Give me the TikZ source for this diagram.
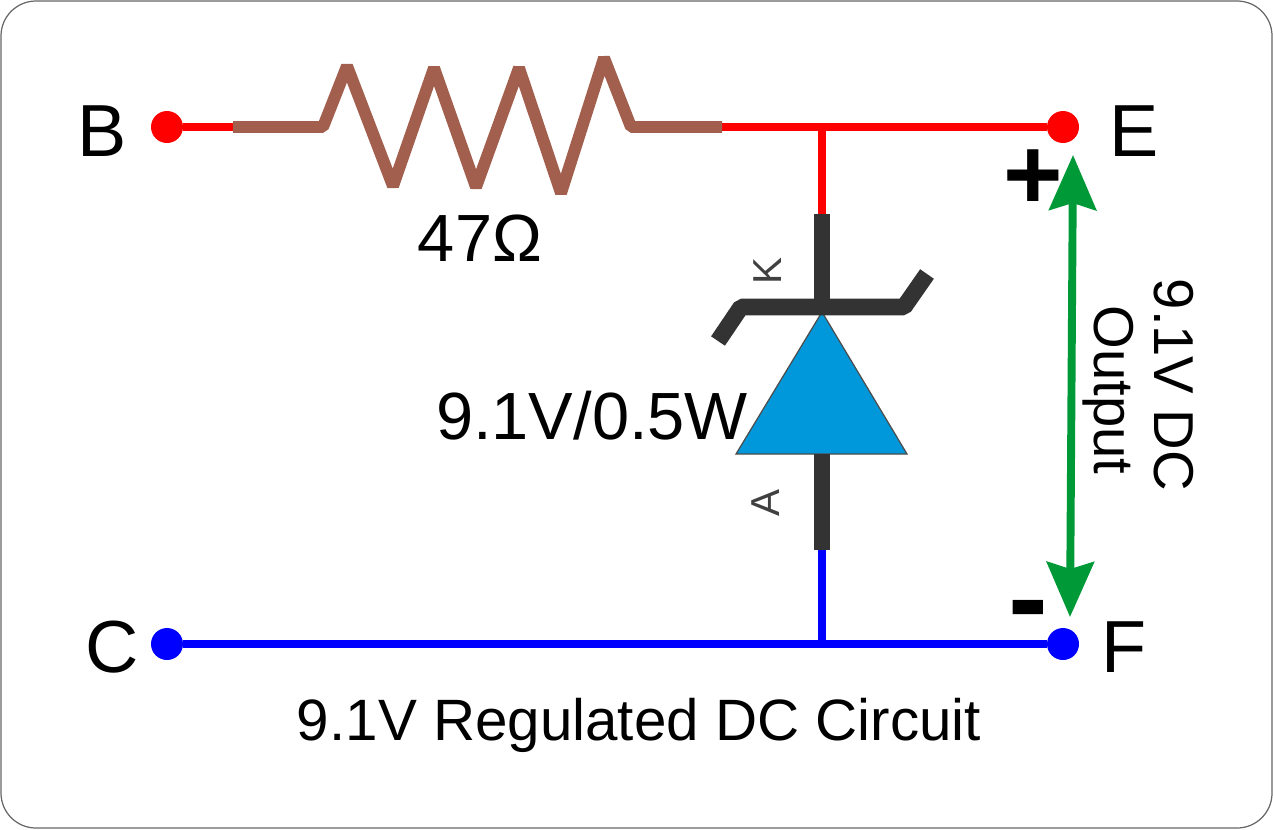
\documentclass[tikz,border=0pt]{standalone}
\usepackage{fontspec}
\setmainfont{Liberation Sans}
\usetikzlibrary{arrows.meta}

\begin{document}
\begin{tikzpicture}[
x=0.02cm, y=-0.02cm,
dot/.style={circle, inner sep=0pt, minimum size=0.64cm},
letter/.style={font=\fontsize{42}{42}\selectfont, inner sep=0pt},
label/.style={font=\fontsize{38}{38}\selectfont, inner sep=0pt},
side/.style={font=\fontsize{32}{32}\selectfont, inner sep=0pt, rotate=-90},
small/.style={font=\fontsize{23}{23}\selectfont, inner sep=0pt, text=black!75, rotate=90},
wire/.style={line width=4.5pt},
lead/.style={line width=9.5pt, draw=black!80, line cap=butt, line join=bevel},
]
\useasboundingbox (0,0) rectangle (1273,829);
\draw[black!60, line width=0.7pt, rounded corners=0.7cm] (1,1) rectangle (1272,828);

\node[dot, fill=red] (B) at (167,127) {};
\node[dot, fill=red] (E) at (1063,127) {};
\node[dot, fill=blue] (C) at (167,644) {};
\node[dot, fill=blue] (F) at (1063,644) {};
\coordinate (r1) at (233,127);
\coordinate (r2) at (722,127);
\coordinate (j1) at (822,127);
\coordinate (k1) at (822,214);
\coordinate (k2) at (822,307);
\coordinate (a1) at (822,454);
\coordinate (a2) at (822,550);
\coordinate (j2) at (822,644);
\coordinate (u1) at (1073,155);
\coordinate (u2) at (1070,617);

% wires
\draw[wire, red] (B)--(r1);
\draw[wire, red] (r2)--(E);
\draw[wire, red] (j1)--(k1);
\draw[wire, blue] (C)--(F);
\draw[wire, blue] (a2)--(j2);

% resistor
\draw[line width=6.8pt, draw={rgb,255:red,162;green,95;blue,78}, line join=bevel]
(r1)--(323,127)--(347,66)--(393,186)--(434,68)--(476,187)--(519,68)--(561,193)--(604,58)--(631,127)--(r2);

% zener
\draw[black!70, line width=0.7pt, fill={rgb,255:red,0;green,152;blue,218}] (822,312)--(907,454)--(736,454)--cycle;
\draw[lead] (k1)--(k2);
\draw[lead] (a1)--(a2);
\draw[lead] (718,341)--(741,307)--(904,307)--(927,274);

% output arrow
\draw[line width=4.5pt, draw={rgb,255:red,0;green,153;blue,56},
{Stealth[length=1.1cm,width=0.94cm,inset=0.14cm]}-{Stealth[length=1.1cm,width=0.94cm,inset=0.14cm]}] (u1)--(u2);

\node[letter] (tB) at (102,131) {B};
\node[letter] (tE) at (1134,131) {E};
\node[letter] (tC) at (112,647) {C};
\node[letter] (tF) at (1124,647) {F};
\node[label] (t47) at (480,238) {47Ω};
\node[label] (tz) at (592,416) {9.1V/0.5W};
\node[label, font=\fontsize{33.2}{33.2}\selectfont] (tc) at (639,725) {9.1V Regulated DC Circuit};
\node[side] (to1) at (1174,385) {9.1V DC};
\node[side] (to2) at (1108,390) {Output};
\node[small] (tk) at (768,271) {K};
\node[small] (ta) at (766,503) {A};
\node[inner sep=0pt, font=\bfseries\fontsize{58}{58}\selectfont] (plus) at (1033,180) {+};
\node[inner sep=0pt, font=\bfseries\fontsize{68}{68}\selectfont] (minus) at (1028,619) {-};
\end{tikzpicture}
\end{document}
